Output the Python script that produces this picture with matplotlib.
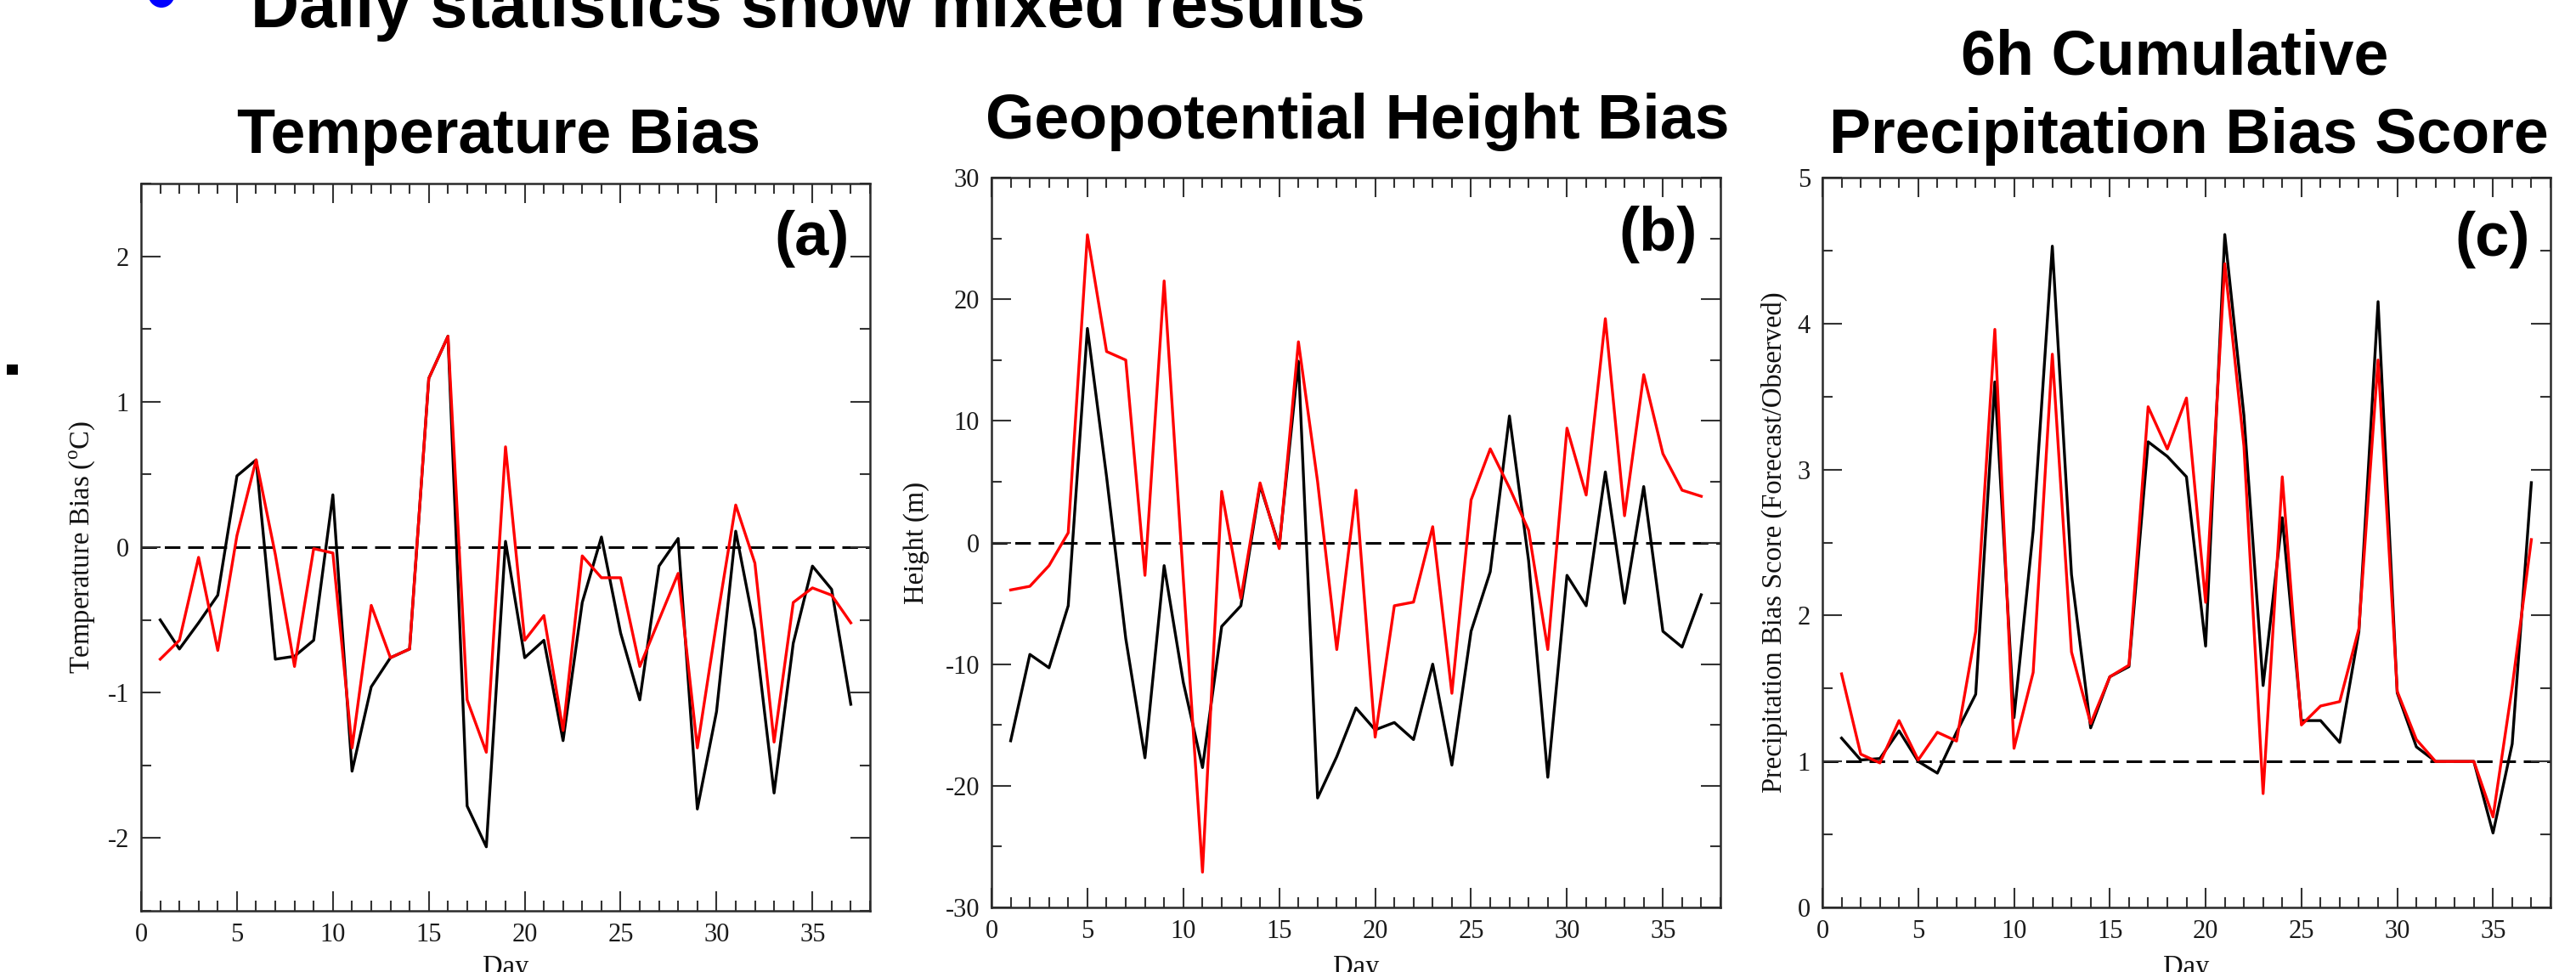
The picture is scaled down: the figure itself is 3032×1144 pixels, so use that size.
import matplotlib
matplotlib.use("Agg")
import matplotlib.pyplot as plt
from matplotlib.ticker import MultipleLocator
from matplotlib.patches import Rectangle, Ellipse

# ---------------- data ----------------
days = list(range(1, 38))

temp_black = [-0.50, -0.70, -0.52, -0.33, 0.49, 0.60, -0.77, -0.75, -0.64, 0.36,
              -1.54, -0.96, -0.76, -0.70, 1.16, 1.45, -1.78, -2.06, 0.04, -0.76,
              -0.64, -1.33, -0.38, 0.07, -0.59, -1.05, -0.13, 0.06, -1.80, -1.13,
              0.11, -0.57, -1.69, -0.66, -0.13, -0.29, -1.08]
temp_red = [-0.77, -0.64, -0.07, -0.71, 0.08, 0.60, -0.05, -0.82, -0.01, -0.04,
            -1.38, -0.40, -0.76, -0.70, 1.16, 1.45, -1.05, -1.41, 0.69, -0.64,
            -0.47, -1.26, -0.06, -0.21, -0.21, -0.82, -0.50, -0.18, -1.38, -0.52,
            0.29, -0.11, -1.34, -0.38, -0.28, -0.33, -0.52]

height_black = [-16.3, -9.2, -10.3, -5.2, 17.6, 5.4, -7.9, -17.7, -1.9, -11.5,
                -18.5, -6.9, -5.2, 4.7, -0.3, 14.9, -21.0, -17.6, -13.6, -15.4,
                -14.8, -16.2, -10.0, -18.3, -7.3, -2.4, 10.4, -1.5, -19.3, -2.7,
                -5.2, 5.8, -5.0, 4.6, -7.3, -8.6, -4.3]
height_red = [-3.9, -3.6, -1.9, 0.8, 25.3, 15.7, 15.0, -2.7, 21.5, -3.0,
              -27.1, 4.2, -4.6, 4.9, -0.5, 16.5, 5.0, -8.8, 4.3, -16.0,
              -5.2, -4.9, 1.3, -12.4, 3.5, 7.7, 4.5, 1.0, -8.8, 9.4,
              3.9, 18.4, 2.2, 13.8, 7.3, 4.3, 3.8]

precip_black = [1.16, 1.01, 1.02, 1.21, 1.00, 0.92, 1.20, 1.46, 3.60, 1.30,
                2.58, 4.53, 2.28, 1.23, 1.58, 1.65, 3.19, 3.09, 2.95, 1.79,
                4.61, 3.37, 1.52, 2.67, 1.28, 1.28, 1.13, 1.89, 4.15, 1.47,
                1.10, 1.00, 1.00, 1.00, 0.51, 1.12, 2.91]
precip_red = [1.60, 1.05, 0.99, 1.28, 1.01, 1.20, 1.14, 1.89, 3.96, 1.09,
              1.61, 3.79, 1.75, 1.26, 1.58, 1.66, 3.43, 3.14, 3.49, 2.09,
              4.41, 3.16, 0.78, 2.95, 1.25, 1.38, 1.41, 1.91, 3.75, 1.48,
              1.15, 1.00, 1.00, 1.00, 0.62, 1.51, 2.52]

titles = ["Temperature Bias", "Geopotential Height Bias",
          "6h Cumulative\nPrecipitation Bias Score"]
panel_labels = ["(a)", "(b)", "(c)"]
ylabels = [r"Temperature Bias ($^{\rm o}$C)", "Height (m)",
           "Precipitation Bias Score (Forecast/Observed)"]
ylims = [(-2.5, 2.5), (-30, 30), (0, 5)]
ymajor = [1, 10, 1]
yminor = [0.5, 5, 0.5]
refline = [0, 0, 1]
headline = "Daily statistics show mixed results"

# ---------------- style ----------------
plt.rcParams['font.family'] = ['Liberation Serif', 'DejaVu Serif']
plt.rcParams['mathtext.fontset'] = 'custom'
plt.rcParams['mathtext.rm'] = 'Liberation Serif'
plt.rcParams['axes.unicode_minus'] = False

W, H = 3032, 1144
fig = plt.figure(figsize=(W / 100, H / 100), dpi=100)

# axes boxes in pixels: left, right, top, bottom
boxes = [(166, 1024, 216, 1072), (1167, 2025, 209, 1068), (2145, 3002, 209, 1068)]
ylabel_x = [97, 1079, 2088]
label_pos = [(1000, 247), (1998, 242), (2978, 248)]
series = [(temp_black, temp_red), (height_black, height_red), (precip_black, precip_red)]

frame_col = '#2a2a2a'
for i, (l, r, t, b) in enumerate(boxes):
    ax = fig.add_axes([l / W, 1 - b / H, (r - l) / W, (b - t) / H])
    blk, red = series[i]
    ax.axhline(refline[i], color='black', lw=2.2, dashes=(6, 3), zorder=1)
    ax.plot(days, blk, color='black', lw=2.4, zorder=2)
    ax.plot(days, red, color='#ff0000', lw=2.4, zorder=3)
    ax.set_xlim(0, 38)
    ax.set_ylim(*ylims[i])
    ax.xaxis.set_major_locator(MultipleLocator(5))
    ax.xaxis.set_minor_locator(MultipleLocator(1))
    ax.yaxis.set_major_locator(MultipleLocator(ymajor[i]))
    ax.yaxis.set_minor_locator(MultipleLocator(yminor[i]))
    ax.tick_params(which='both', direction='in', top=True, right=True,
                   color='#333333', width=1.5, labelsize=22, labelcolor='#1a1a1a')
    ax.tick_params(which='major', length=16.5, pad=10)
    ax.tick_params(which='minor', length=8.5)
    for sp in ax.spines.values():
        sp.set_color(frame_col)
        sp.set_linewidth(1.8)
    ax.set_ylabel(ylabels[i], fontsize=23.5, va='center', color='#111111')
    ax.yaxis.set_label_coords((ylabel_x[i] - l) / (r - l), 0.5)
    ax.set_xlabel("Day", fontsize=23.5, va='top', color='#111111')
    ax.xaxis.set_label_coords(0.5, -(1124 - b) / (b - t))
    lx, ly = label_pos[i]
    fig.text(lx / W, 1 - ly / H, panel_labels[i], ha='right', va='top',
             family='Liberation Sans', weight='bold', fontsize=52)

# titles
tfont = dict(family='Liberation Sans', weight='bold', fontsize=53, va='baseline', ha='center')
fig.text(587 / W, 1 - 180 / H, titles[0], **tfont)
fig.text(1598 / W, 1 - 163 / H, titles[1], **tfont)
t1, t2 = titles[2].split("\n")
fig.text(2560 / W, 1 - 88 / H, t1, **tfont)
fig.text(2576 / W, 1 - 180 / H, t2, **tfont)

# headline (cut at top) with blue bullet
fig.text(295 / W, 1 - 32 / H, headline, family='Liberation Sans', weight='bold',
         fontsize=57, ha='left', va='baseline')
fig.add_artist(Ellipse((190 / W, 1 + 8 / H), 32 / W, 34 / H,
                       transform=fig.transFigure, color='#0000ff', lw=0))
# small black square marker on the left
fig.add_artist(Rectangle((8 / W, 1 - 441 / H), 13 / W, 12 / H,
                         transform=fig.transFigure, color='black', lw=0))

fig.savefig("out.png", dpi=100)
